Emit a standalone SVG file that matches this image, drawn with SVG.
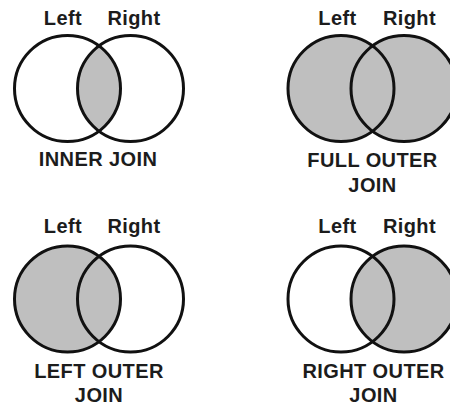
<svg xmlns="http://www.w3.org/2000/svg" width="450" height="406" viewBox="0 0 450 406">
  <style>
    .ring { fill: none; stroke: #111; stroke-width: 3; }
    .shade { fill: #bfbfbf; stroke: none; }
    .lbl { font-family: "Liberation Sans", Arial, sans-serif; font-weight: bold; font-size: 20px; letter-spacing: 0.4px; fill: #1c1c1c; text-anchor: middle; }
  </style>
  <defs>
    <clipPath id="clipInner" clipPathUnits="userSpaceOnUse">
      <circle cx="130.5" cy="88.5" r="53"/>
    </clipPath>
  </defs>
  <rect width="450" height="406" fill="#ffffff"/>

  <g id="inner-join">
    <circle class="shade" cx="67.5" cy="88.5" r="53" clip-path="url(#clipInner)"/>
    <circle class="ring" cx="67.5" cy="88.5" r="53"/>
    <circle class="ring" cx="130.5" cy="88.5" r="53"/>
    <text class="lbl" x="63" y="25">Left</text>
    <text class="lbl" x="134" y="25">Right</text>
    <text class="lbl" x="98" y="166">INNER JOIN</text>
  </g>

  <g id="full-outer-join">
    <circle class="shade" cx="341" cy="88.5" r="53"/>
    <circle class="shade" cx="404" cy="88.5" r="53"/>
    <circle class="ring" cx="341" cy="88.5" r="53"/>
    <circle class="ring" cx="404" cy="88.5" r="53"/>
    <text class="lbl" x="337.5" y="25">Left</text>
    <text class="lbl" x="409.5" y="25">Right</text>
    <text class="lbl" x="372.5" y="167">FULL OUTER</text>
    <text class="lbl" x="372.5" y="192">JOIN</text>
  </g>

  <g id="left-outer-join">
    <circle class="shade" cx="67.5" cy="299" r="53"/>
    <circle class="ring" cx="67.5" cy="299" r="53"/>
    <circle class="ring" cx="130.5" cy="299" r="53"/>
    <text class="lbl" x="63" y="233">Left</text>
    <text class="lbl" x="134" y="233">Right</text>
    <text class="lbl" x="99" y="378">LEFT OUTER</text>
    <text class="lbl" x="99" y="402">JOIN</text>
  </g>

  <g id="right-outer-join">
    <circle class="shade" cx="404" cy="299" r="53"/>
    <circle class="ring" cx="341" cy="299" r="53"/>
    <circle class="ring" cx="404" cy="299" r="53"/>
    <text class="lbl" x="337.5" y="233">Left</text>
    <text class="lbl" x="409.5" y="233">Right</text>
    <text class="lbl" x="373.5" y="378">RIGHT OUTER</text>
    <text class="lbl" x="373.5" y="402">JOIN</text>
  </g>
</svg>
